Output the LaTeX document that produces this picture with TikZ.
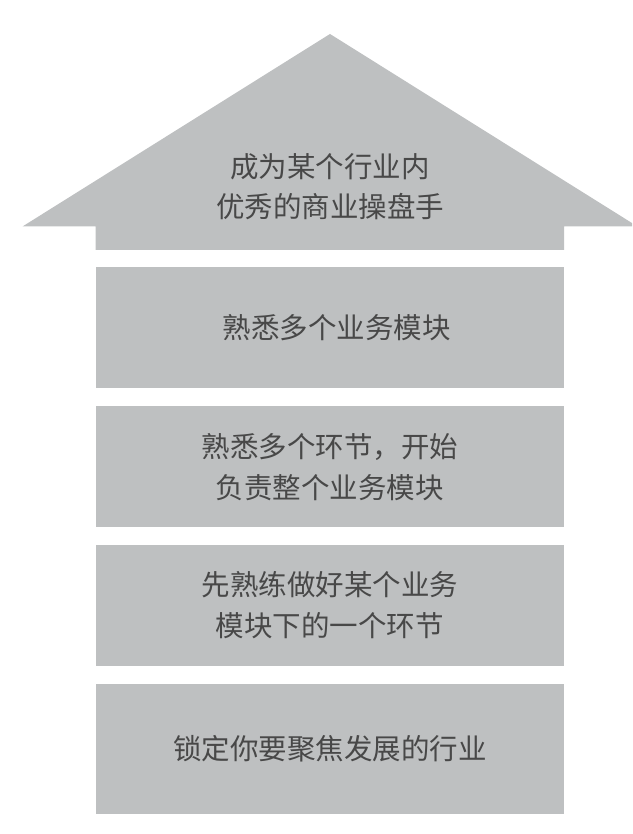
\documentclass[tikz,border=0pt]{standalone}
\usepackage{fontspec}
\setmainfont{Noto Sans CJK SC}
\usepackage{tikz}
\usetikzlibrary{positioning}
\definecolor{boxgray}{RGB}{190,192,193}
\definecolor{textgray}{RGB}{72,72,72}

\begin{document}
\begin{tikzpicture}[x=1pt,y=1pt,node distance=17.3pt,
  layer node/.style={rectangle,fill=boxgray,minimum width=468.5pt,minimum height=121pt,
        inner sep=0pt,align=center,text=textgray,font=\fontsize{28.5}{41}\selectfont},
        roof node/.style={inner sep=0pt,align=center,text=textgray,font=\fontsize{28.5}{40}\selectfont}]
  \useasboundingbox (0,0) rectangle (632,834);
  \clip (0,0) rectangle (632,834);
  % arrow on top
  \fill[boxgray] (330,800) -- (637.5,607.5) -- (564,607.5) -- (564,584)
    -- (95.5,584) -- (95.5,607.5) -- (22.5,607.5) -- cycle;
  \coordinate (0) at (329.75,584);
  \node[roof node] (5) at (330,647) {成为某个行业内\\优秀的商业操盘手};

  \node[layer node] (1) [below=of 0] {\hspace{14pt}熟悉多个业务模块};
  \node[layer node] (2) [below=of 1] {熟悉多个环节，开始\\负责整个业务模块};
  \node[layer node] (3) [below=of 2] {先熟练做好某个业务\\模块下的一个环节};
  \node[layer node,minimum height=130.5pt] (4) [below=of 3] {锁定你要聚焦发展的行业};
\end{tikzpicture}
\end{document}
